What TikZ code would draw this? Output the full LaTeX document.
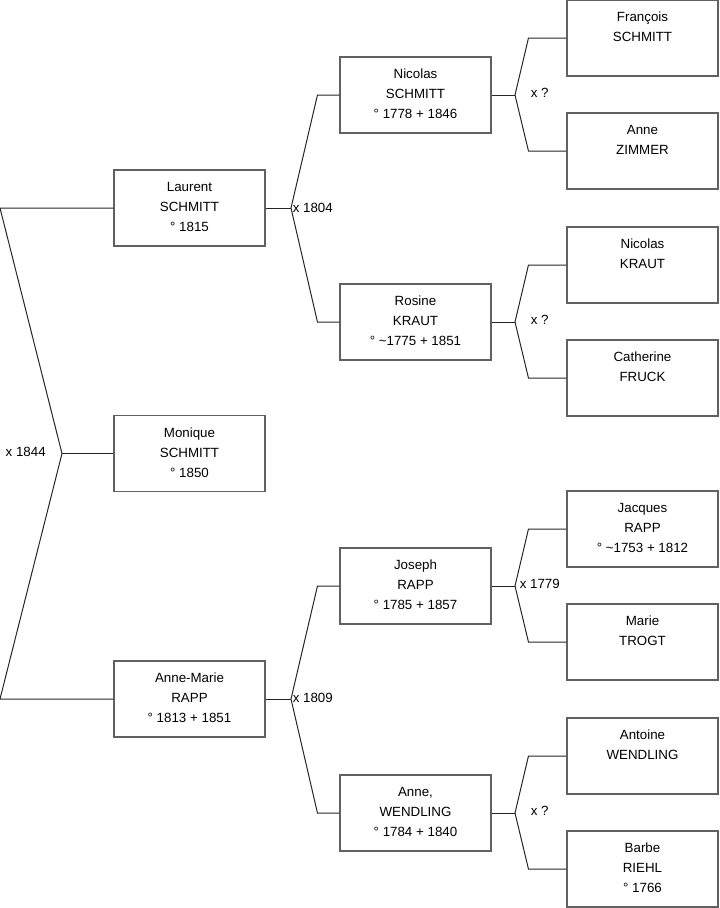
\documentclass[tikz,border=0pt]{standalone}
\usepackage{fontspec}
\setmainfont{Liberation Sans}
\begin{document}
\begin{tikzpicture}[x=0.75pt,y=-0.75pt,
  pbox/.style={draw=black!62,line width=0.8pt,minimum width=113.25pt,minimum height=57pt,inner sep=0pt,fill=white},
  ptext/.style={anchor=north,inner sep=0pt,align=center,font=\fontsize{10pt}{15pt}\selectfont},
  conn/.style={draw=black!85,line width=0.75pt},
  mlabel/.style={inner sep=0pt,font=\fontsize{10pt}{12pt}\selectfont}]
\useasboundingbox (0,0) rectangle (719,908);
% boxes (centers)
\newcommand{\pbx}[4]{\node[pbox] (#1) at (#2,#3) {};
  \node[ptext] (#1t) at ([yshift=-9.3pt]#1.north) {#4};}
\pbx{L}{189.5}{208}{Laurent\\SCHMITT\\° 1815}
\pbx{M}{189.5}{453.5}{Monique\\SCHMITT\\° 1850}
\pbx{AM}{189.5}{699}{Anne-Marie\\RAPP\\° 1813 + 1851}
\pbx{NS}{415.5}{95}{Nicolas\\SCHMITT\\° 1778 + 1846}
\pbx{RK}{415.5}{322}{Rosine\\KRAUT\\° \textasciitilde1775 + 1851}
\pbx{JR}{415.5}{586}{Joseph\\RAPP\\° 1785 + 1857}
\pbx{AW}{415.5}{813}{Anne,\\WENDLING\\° 1784 + 1840}
\pbx{FS}{642.5}{38}{François\\SCHMITT}
\pbx{AZ}{642.5}{151}{Anne\\ZIMMER}
\pbx{NK}{642.5}{265}{Nicolas\\KRAUT}
\pbx{CF}{642.5}{378}{Catherine\\FRUCK}
\pbx{JA}{642.5}{529}{Jacques\\RAPP\\° \textasciitilde1753 + 1812}
\pbx{MT}{642.5}{642}{Marie\\TROGT}
\pbx{AN}{642.5}{756}{Antoine\\WENDLING}
\pbx{BR}{642.5}{869}{Barbe\\RIEHL\\° 1766}
% junction coordinates
\coordinate (j0) at (62,453.5);
\coordinate (j0a) at (0,208);
\coordinate (j0b) at (0,699);
\coordinate (j1) at (291,208);
\coordinate (j2) at (291,699);
\coordinate (j3) at (515,95);
\coordinate (j4) at (515,322);
\coordinate (j5) at (515,586);
\coordinate (j6) at (515,813);
% connectors level 0
\draw[conn] (M.west) -- (j0);
\draw[conn] (L.west) -- (j0a) -- (j0) -- (j0b) -- (AM.west);
% level 1
\draw[conn] (L.east) -- (j1);
\draw[conn] (NS.west) -- ++(-16.5pt,0) -- (j1) -- ([xshift=-16.5pt]RK.west) -- (RK.west);
\draw[conn] (AM.east) -- (j2);
\draw[conn] (JR.west) -- ++(-16.5pt,0) -- (j2) -- ([xshift=-16.5pt]AW.west) -- (AW.west);
% level 2
\draw[conn] (NS.east) -- (j3);
\draw[conn] (FS.west) -- ++(-28.5pt,0) -- (j3) -- ([xshift=-28.5pt]AZ.west) -- (AZ.west);
\draw[conn] (RK.east) -- (j4);
\draw[conn] (NK.west) -- ++(-28.5pt,0) -- (j4) -- ([xshift=-28.5pt]CF.west) -- (CF.west);
\draw[conn] (JR.east) -- (j5);
\draw[conn] (JA.west) -- ++(-28.5pt,0) -- (j5) -- ([xshift=-28.5pt]MT.west) -- (MT.west);
\draw[conn] (AW.east) -- (j6);
\draw[conn] (AN.west) -- ++(-28.5pt,0) -- (j6) -- ([xshift=-28.5pt]BR.west) -- (BR.west);
% marriage labels
\node[mlabel,anchor=east] (m0) at (46,452) {x 1844};
\node[mlabel,anchor=west] (m1) at (292.5,207.5) {x 1804};
\node[mlabel,anchor=west] (m2) at (292.5,698) {x 1809};
\node[mlabel,anchor=west] (m3) at (530.5,92.5) {x ?};
\node[mlabel,anchor=west] (m4) at (530.5,319.5) {x ?};
\node[mlabel,anchor=west] (m5) at (519.5,583.5) {x 1779};
\node[mlabel,anchor=west] (m6) at (530.5,810.5) {x ?};
\end{tikzpicture}
\end{document}
